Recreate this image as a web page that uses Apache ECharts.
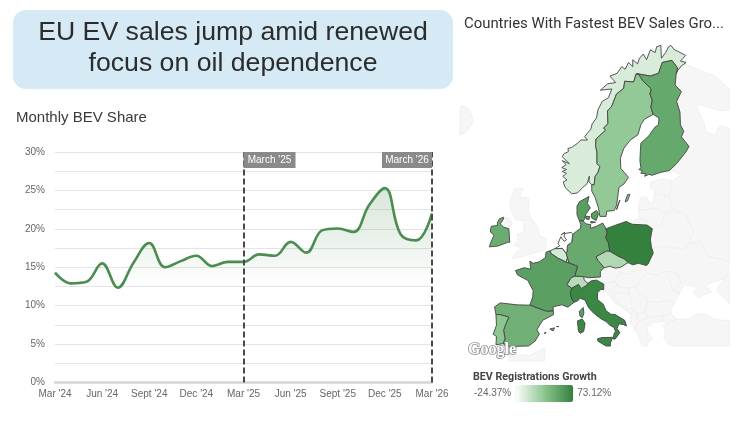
<!DOCTYPE html>
<html>
<head>
<meta charset="utf-8">
<style>html,body{margin:0;padding:0;background:#fff}#chart{width:740px;height:421px}</style>
<script src="https://cdn.jsdelivr.net/npm/echarts@6/dist/echarts.min.js"></script>
</head>
<body>
<div id="chart"></div>
<script>
// Monthly battery-electric share of new car registrations, in percent
const months = ["Mar '24","Apr '24","May '24","Jun '24","Jul '24","Aug '24","Sept '24","Oct '24","Nov '24","Dec '24","Jan '25","Feb '25","Mar '25","Apr '25","May '25","Jun '25","Jul '25","Aug '25","Sept '25","Oct '25","Nov '25","Dec '25","Jan '26","Feb '26","Mar '26"];
const bevShare = [14.3,12.9,13.1,15.5,12.35,15.6,18.15,15.0,15.8,16.5,15.15,15.7,15.7,16.67,16.5,18.3,16.9,19.8,20.05,19.6,23.1,25.3,19.3,18.5,22.0];
const periodMarks = ["Mar '25","Mar '26"];
const periodLabels = ["March '25","March '26"];

// Year-on-year growth in BEV registrations, in percent
const growthCountries = ["Norway","Sweden","Finland","Denmark","Germany","Poland","Czechia","Belgium","Luxembourg","Netherlands","France","Spain","Portugal","Italy","Switzerland","Ireland"];
const growthValues = [-8.3,21.4,45.1,52.6,44,73.12,9,-6.5,-6.5,-24.37,51.2,39.7,24.4,68.7,5.7,42.4];
const growthMin = -24.37;
const growthMax = 73.12;

// Country outlines as [longitude, latitude] rings, one list of rings per country
const outlines = {
  Iceland: [[[-16.45,66.4],[-16,66.5],[-14.6,66.3],[-13.6,65.2],[-15,64.3],[-16.45,63.9]]],
  "United Kingdom": [
    [[-5.6,50],[-3.5,50.3],[1.4,51.2],[1.7,52.7],[0.3,53],[-0.1,54],[-1.6,55.3],[-2.1,56],[-2,57.5],[-4,57.7],[-3.1,58.6],[-5,58.6],[-5.8,57.5],[-6,56.5],[-4.9,55],[-3,54.9],[-3.1,53.4],[-4.5,53.2],[-4.2,52.4],[-5.2,51.8],[-3.2,51.4],[-4.4,51.1]],
    [[-5.5,54.5],[-6.1,55.2],[-7.3,55.3],[-8,54.5],[-7.3,54.1],[-6.2,53.9]]
  ],
  Russia: [
    [[28.9,69.05],[29.2,69.6],[30.9,69.8],[33.5,69.4],[37,68.9],[40.07,67.9],[40.07,66.2],[38,66.1],[34.5,66.6],[33,66.6],[34.8,65],[35,64.3],[37,63.9],[38,64.8],[40.07,64.6],[40.07,49.6],[38,50],[35.5,50.4],[34,52.3],[32,52.1],[31.8,53],[32.7,53.5],[30.9,55.6],[28.2,56.1],[27.5,57.5],[27.9,59.4],[30,60],[28,60.5],[29,61.2],[31,62.4],[31.6,62.9],[30,63.8],[30.5,64.3],[29.8,64.9],[29.7,66],[29,66.9],[30,67.7],[28.7,68.2]],
    [[40.07,47.9],[39.8,47.9],[38.2,47.1],[39.3,47.1],[37.8,46.2],[37.5,45.4],[38.9,44.4],[40.07,43.6]],
    [[19.7,54.45],[22.8,54.35],[22.7,54.9],[21.2,55.2],[20,54.9]]
  ],
  Estonia: [[[23.4,59.2],[25.8,59.6],[28,59.45],[27.5,57.5],[25.9,57.9],[24.4,58],[24.4,58.4],[23.5,58.7]]],
  Latvia: [[[21,56.8],[21.5,57.6],[22.6,57.7],[23.3,57],[24.1,57.1],[24.4,58],[25.9,57.9],[27.5,57.5],[28.2,56.1],[26.6,55.7],[25.6,56.3],[24,56.3],[21,56.1]]],
  Lithuania: [[[21,56.1],[24,56.3],[25.6,56.3],[26.6,55.7],[25.7,54.3],[23.9,53.9],[22.8,54.35],[22.7,54.9],[21.2,55.2]]],
  Belarus: [[[23.9,53.9],[25.7,54.3],[26.6,55.7],[28.2,56.1],[30.9,55.6],[32.7,53.5],[31.8,53],[32,52.1],[30.5,51.3],[27,51.6],[23.7,51.6],[23.5,52.6]]],
  Ukraine: [[[24.1,50.8],[23.7,51.6],[27,51.6],[30.5,51.3],[32,52.1],[34,52.3],[35.5,50.4],[38,50],[40.07,49.6],[39.8,47.9],[38.2,47.1],[36,46.6],[35,46.2],[36.5,45.3],[35,45],[33.5,44.5],[32.5,45.3],[33.5,46],[31.8,46.3],[30.7,46.4],[29.7,45.3],[28.2,45.5],[29.9,46.5],[29.2,47.9],[28,48.2],[26.6,48.3],[24.9,47.7],[22.9,48],[22.2,48.4],[22.7,49.1],[23,49.3]]],
  Moldova: [[[26.6,48.3],[28,48.2],[29.2,47.9],[29.9,46.5],[28.2,45.5],[27.5,47]]],
  Romania: [[[22.9,48],[24.9,47.7],[26.6,48.3],[27.5,47],[28.2,45.5],[29.7,45.2],[28.6,43.75],[27,44.1],[25,43.7],[22.9,43.9],[22.5,44.6],[21.4,44.8],[20.3,46.1],[21.3,47]]],
  Bulgaria: [[[22.9,43.9],[25,43.7],[27,44.1],[28.6,43.75],[27.7,42.6],[28,42],[26.2,41.7],[24.2,41.5],[22.9,41.4],[22.4,42.4]]],
  Hungary: [[[16.1,46.9],[16.5,47.6],[17.1,48],[18.8,47.9],[20.5,48.5],[22.2,48.4],[22.9,48],[21.3,47],[20.3,46.1],[18.8,45.9],[17,46]]],
  Slovakia: [[[17.1,48],[17.2,48.85],[18.8,49.5],[19.8,49.2],[21,49.4],[22.7,49.1],[22.2,48.4],[20.5,48.5],[18.8,47.9]]],
  Austria: [[[9.6,47.05],[9.5,47.55],[10.5,47.4],[13,47.5],[13,48.3],[13.8,48.8],[15,49],[16.1,48.75],[17.2,48.85],[17.1,48],[16.5,47.6],[16.1,46.9],[13.7,46.5],[12.2,47.05],[11.1,46.95],[10.4,46.6]]],
  Slovenia: [[[13.7,46.5],[16.1,46.9],[16.5,46.4],[15.3,45.7],[13.7,45.5]]],
  Croatia: [[[13.6,45.1],[13.7,45.5],[15.3,45.7],[16.5,46.4],[17,46],[18.8,45.9],[19,45.2],[16,45.2],[15.8,44.3],[17.5,43.1],[18.4,42.6],[16.5,43.4],[15,44.6],[14.3,45.2]]],
  Bosnia: [[[16,45.2],[19,45.2],[19.5,44],[18.4,42.6],[17.5,43.1],[15.8,44.3]]],
  Serbia: [[[18.8,45.9],[20.3,46.1],[21.4,44.8],[22.5,44.6],[22.9,43.9],[22.4,42.4],[20.6,41.9],[20,42.6],[19.5,43],[19.5,44],[19,45.2]]],
  Montenegro: [[[18.4,42.6],[19.5,43],[20,42.6],[19.3,41.9]]],
  Albania: [[[19.3,41.9],[20,42.6],[20.6,41.9],[21,40.8],[20.2,39.7],[19.4,40.4]]],
  Macedonia: [[[20.6,41.9],[22.4,42.4],[22.9,41.4],[21,40.8]]],
  Greece: [[[20.2,39.7],[21,40.8],[22.9,41.4],[24.2,41.5],[26.2,41.7],[26,40.8],[24,40.7],[23.4,40],[22.6,40.4],[23,39],[24,38],[23,37.5],[23,36.8],[21.7,36.8],[21.1,38.3],[20.7,38.9]]],
  Turkey: [
    [[26.2,41.7],[28,42],[29,41.2],[27,40.6],[26,40.8]],
    [[26,40.1],[29,41.1],[31.4,41.2],[33.3,42],[35.1,42],[36.5,41.3],[38.5,41],[40.07,41],[40.07,36.8],[30.6,36.8],[29,36.8],[27.4,37],[26.3,38.3],[26.7,39.5]]
  ],
  Morocco: [[[-6.2,35.8],[-5.3,35.9],[-4.6,35.2],[-3,35.3],[-2,35.1],[0,35.9],[1.3,36.5],[1.3,34.24],[-6.2,34.24]]],

  Norway: [[[7,58],[5.6,58.7],[5.2,59.3],[6,59.5],[5.1,59.9],[5.9,60.2],[5,60.4],[5.9,60.6],[4.9,60.8],[5.8,61.1],[5,61.5],[6.5,61.2],[5,61.9],[5.4,62.2],[6.3,62.4],[6.2,62.7],[7,62.8],[8.2,63.2],[8.9,63.5],[10.3,63.5],[9.7,63.8],[10.4,64.2],[11,64.5],[11.3,65],[12.2,65.5],[12.5,66.2],[13.4,66.9],[14.7,67.2],[15.4,67.9],[13,67.8],[14.5,68.3],[16.2,68.4],[15,68.9],[16.5,69.1],[17.5,69.6],[18.2,69.4],[18.9,69.9],[19.8,69.6],[19.8,70.1],[20.8,69.8],[21.2,70.2],[22,70.5],[22.7,70.1],[23.5,70.8],[24.5,70.6],[24.8,71],[25.7,71.1],[25.8,70.2],[26.7,70.6],[27.3,71],[27.8,71.1],[28.5,70.8],[29.2,70.7],[30.9,70.4],[29.8,70],[31,69.9],[30,69.65],[29.2,69.3],[28.9,69.05],[29.2,69.5],[28,70.05],[26,69.9],[25.2,69.1],[23.5,68.9],[21,69.05],[20.5,69.05],[20,68.45],[18.1,68.5],[17.9,67.95],[16.4,67.5],[15.4,66.5],[14.5,66.1],[14.6,65],[13.7,64.6],[14.1,64.4],[12.1,63.6],[12,63],[12.3,62.3],[12.3,61.2],[12.9,60.9],[12.5,60.3],[11.9,59.9],[11.7,59],[11.2,59],[10.6,59.3],[10.7,59.9],[10.2,59.1],[9.3,58.7],[8.2,58.1]]],
  Sweden: [
    [[11.2,59],[11.2,58.3],[11.9,57.6],[12.6,56.4],[12.9,55.4],[14.2,55.4],[14.3,56],[15.9,56.1],[16.4,56.7],[16.7,57.9],[16.9,58.7],[18,59.1],[18.9,59.8],[17.3,60.7],[17.2,61.7],[17.9,62.7],[19.3,63.5],[20.9,64],[21.5,64.9],[22.3,65.4],[24.1,65.8],[23.6,66.4],[23.9,67],[23.4,67.5],[23.7,67.9],[22,68.5],[21,69.05],[20.5,69.05],[20,68.45],[18.1,68.5],[17.9,67.95],[16.4,67.5],[15.4,66.5],[14.5,66.1],[14.6,65],[13.7,64.6],[14.1,64.4],[12.1,63.6],[12,63],[12.3,62.3],[12.3,61.2],[12.9,60.9],[12.5,60.3],[11.9,59.9],[11.7,59]],
    [[18.2,57.1],[18.7,57.2],[19.2,57.95],[18.7,57.9]],
    [[16.4,56.2],[16.5,56.3],[17.1,57.3],[16.8,56.9]]
  ],
  Finland: [[[20.5,69.05],[21,69.05],[22,68.5],[23.7,67.9],[23.4,67.5],[23.9,67],[23.6,66.4],[24.1,65.8],[25.3,65.5],[25.2,64.9],[24.5,64.7],[23.2,63.9],[21.5,63.2],[21.4,62.5],[21.3,61.5],[21.5,60.8],[21.1,60.6],[21.8,60.5],[21.5,60.2],[22.5,60.2],[22.3,59.9],[23.2,60.1],[23.8,60],[25.6,60.3],[27.5,60.5],[29,61.2],[31,62.4],[31.6,62.9],[30,63.8],[30.5,64.3],[29.8,64.9],[29.7,66],[29,66.9],[30,67.7],[28.7,68.2],[28.9,69.05],[29.2,69.5],[28,70.05],[26,69.9],[25.2,69.1],[23.5,68.9],[21,69.05]]],
  Denmark: [
    [[8.6,54.9],[8.1,55.6],[8.1,56.6],[8.6,57.1],[10.6,57.7],[10.3,56.9],[10.9,56.4],[10,55.7],[9.6,55],[9.4,54.85]],
    [[11.1,55.7],[12.2,56.1],[12.6,55.7],[12.1,54.9],[11.2,55.2]],
    [[9.9,55.4],[10.8,55.4],[10.6,55],[10,55.1]],
    [[11,54.8],[12,54.7],[11.9,54.6],[11,54.6]]
  ],
  Germany: [[[8.6,54.9],[9.4,54.85],[10,54.5],[11,54.4],[10.9,53.95],[12.2,54.2],[13.5,54.6],[14.2,53.9],[14.4,53.3],[14.1,52.8],[14.7,52.1],[15,51],[14.3,51.05],[12.1,50.3],[12.5,49.8],[13.8,48.8],[13,48.3],[13,47.5],[10.5,47.4],[9.5,47.55],[7.6,47.6],[8.2,49],[6.4,49.45],[6.1,50.1],[5.8,50.75],[6,51],[6.1,51.8],[7,52.2],[7.2,53.2],[8,53.6],[8.8,53.9],[8.9,54.4]]],
  Poland: [[[14.2,53.9],[16,54.3],[18.4,54.8],[19.7,54.45],[22.8,54.35],[23.9,53.9],[23.5,52.6],[23.7,51.6],[24.1,50.8],[23,49.3],[22.7,49.1],[21,49.4],[19.8,49.2],[18.8,49.5],[18,50],[16.9,50.3],[15,51],[14.7,52.1],[14.1,52.8],[14.4,53.3]]],
  Czechia: [[[12.1,50.3],[14.3,51.05],[15,51],[16.9,50.3],[18,50],[18.8,49.5],[17.2,48.85],[16.1,48.75],[15,49],[13.8,48.8],[12.5,49.8]]],
  Netherlands: [
    [[7.2,53.2],[7,52.2],[6.1,51.8],[6,51],[5.8,50.75],[5,51.4],[3.4,51.35],[4.5,51.75],[4.1,52],[4.7,52.9],[5.4,52.3],[5.9,52.5],[5.4,52.9],[5.5,53.3],[6.9,53.45]],
    [[4.8,53.1],[5.1,53.3],[5.6,53.45],[4.9,53.2]]
  ],
  Belgium: [[[2.5,51.1],[3.4,51.35],[5,51.4],[5.8,50.75],[6.1,50.1],[5.8,49.55],[4.8,49.9],[4.2,50.05],[2.6,50.75]]],
  Luxembourg: [[[5.8,49.55],[6.1,50.1],[6.4,49.45]]],
  France: [
    [[2.5,51.1],[2.6,50.75],[4.2,50.05],[4.8,49.9],[5.8,49.55],[6.4,49.45],[8.2,49],[7.6,47.6],[6.9,47.4],[6,46.4],[7,45.9],[6.7,45.1],[7,44.3],[7.5,43.8],[6.2,43.05],[4.9,43.4],[3.1,43.1],[3.1,42.45],[1.7,42.4],[-1.8,43.35],[-1.2,44.6],[-1.1,45.5],[-2.2,47],[-4.4,47.8],[-4.8,48.4],[-3,48.8],[-1.6,48.6],[-1.8,49.7],[-1.1,49.4],[0.2,49.6],[1.5,50.2],[1.6,50.9]],
    [[8.6,42.4],[9.4,43],[9.55,42.1],[9.2,41.4],[8.7,41.7]]
  ],
  Spain: [
    [[-1.8,43.35],[1.7,42.4],[3.1,42.45],[3.2,41.9],[0.9,41],[-0.3,39.5],[0.2,38.8],[-0.7,37.6],[-2.1,36.8],[-4.4,36.75],[-5.6,36.4],[-6.4,36.8],[-7.4,37.2],[-7,38],[-7.3,39.4],[-6.9,40.3],[-6.2,41.5],[-8.1,41.9],[-8.9,41.9],[-9.2,43.1],[-8,43.7],[-4.5,43.4]],
    [[2.4,39.6],[3.4,39.8],[3.1,39.3]],
    [[3.8,40],[4.3,40],[4.1,39.9]],
    [[1.2,38.9],[1.6,39.1],[1.5,38.9]]
  ],
  Portugal: [[[-8.9,41.9],[-8.1,41.9],[-6.2,41.5],[-6.9,40.3],[-7.3,39.4],[-7,38],[-7.4,37.2],[-8.9,37],[-8.8,38.4],[-9.5,38.75],[-8.8,40.2]]],
  Italy: [
    [[7.5,43.8],[8.2,44],[8.8,44.4],[9.8,44.1],[10.5,43],[11.2,42.4],[12.3,41.7],[13.1,41.25],[14.2,40.8],[15,40.2],[15.8,39.9],[16.2,39.2],[15.9,38.9],[15.7,37.95],[16.1,37.95],[17.1,39],[16.5,39.7],[16.9,40.45],[17.9,40.3],[18.5,40.1],[18.1,41],[16.1,41.9],[15.2,41.95],[14.2,42.5],[13.6,43.5],[12.4,44.2],[12.4,45.2],[13.1,45.7],[13.7,45.7],[13.7,46.5],[12.2,47.05],[11.1,46.95],[10.4,46.6],[9.3,46.45],[8.4,46.45],[7,45.9],[6.7,45.1],[7,44.3]],
    [[12.4,38],[13.3,38.2],[15.6,38.25],[15.1,37.3],[15.1,36.8],[14.2,36.8],[12.5,37.6]],
    [[8.2,40.9],[9.2,41.2],[9.8,40.5],[9.5,39.2],[8.8,38.9],[8.4,39.2]]
  ],
  Switzerland: [[[7.6,47.6],[9.5,47.55],[9.6,47.05],[10.4,46.6],[10.1,46.3],[9,45.85],[8.4,46.45],[7,45.9],[6,46.4],[6.9,47.4]]],
  Ireland: [[[-6,52.2],[-6.4,52.2],[-8.5,51.7],[-10.3,51.6],[-9.9,52.3],[-9.3,53.1],[-10.1,53.5],[-9.9,54.2],[-8.6,54.3],[-8.6,54.6],[-8.2,55.1],[-7.3,55.3],[-7.4,55],[-8,54.5],[-7.3,54.1],[-6.2,53.9],[-6.1,53]]]
};

const features = Object.keys(outlines).map(function (name) {
  return {
    type: 'Feature',
    properties: { name: name },
    geometry: { type: 'MultiPolygon', coordinates: outlines[name].map(function (ring) { return [ring.concat([ring[0]])]; }) }
  };
});
echarts.registerMap('europe', { type: 'FeatureCollection', features: features });

// Web Mercator in degree units, with north pointing up on the screen
const toRad = Math.PI / 180;
const mercator = {
  project: function (p) { return [p[0], -Math.log(Math.tan(Math.PI / 4 + p[1] * toRad / 2)) / toRad]; },
  unproject: function (p) { return [p[0], (2 * Math.atan(Math.exp(-p[1] * toRad)) - Math.PI / 2) / toRad]; }
};

const font = '"Liberation Sans", Arial, sans-serif';
const tickColor = '#666666';
const lineGreen = '#4b8c50';

const chart = echarts.init(document.getElementById('chart'), null, { renderer: 'canvas' });
chart.setOption({
  animation: false,
  backgroundColor: '#ffffff',
  graphic: [{
    type: 'rect', z: -1,
    shape: { x: 13, y: 10, width: 440, height: 79, r: 13 },
    style: { fill: '#d5eaf5' }
  }],
  title: [
    { text: 'EU EV sales jump amid renewed\nfocus on oil dependence', left: 228, top: 12, textAlign: 'center',
      textStyle: { fontFamily: font, fontSize: 26.67, fontWeight: 'normal', color: '#2c2c2c', lineHeight: 31, align: 'center' } },
    { text: 'Monthly BEV Share', left: 16, top: 110,
      textStyle: { fontFamily: font, fontSize: 15, fontWeight: 'normal', color: '#3a3a3a' }, padding: 0 },
    { text: 'Countries With Fastest BEV Sales Gro...', left: 464, top: 17,
      textStyle: { fontFamily: 'Roboto', fontSize: 14.9, fontWeight: 'normal', color: '#333333' }, padding: 0 },
    { text: 'BEV Registrations Growth', left: 473, top: 372,
      textStyle: { fontFamily: 'Roboto', fontSize: 10.7, fontWeight: 'bold', color: '#444444' }, padding: 0 },
    { text: 'Google', left: 468, top: 342, z: 20,
      textStyle: { fontFamily: '"Liberation Serif"', fontSize: 16, fontWeight: 'bold', color: '#ffffff', textBorderColor: '#8a8a8a', textBorderWidth: 1.5 }, padding: 0 }
  ],
  grid: { left: 55, right: 308, top: 152, bottom: 38.5 },
  xAxis: {
    type: 'category', data: months, boundaryGap: false,
    axisTick: { show: false },
    axisLine: { lineStyle: { color: '#d4d4d4', width: 2.5 } },
    axisLabel: { interval: 2, margin: 7, color: tickColor, fontFamily: font, fontSize: 10, hideOverlap: false },
    splitLine: { show: false }
  },
  yAxis: {
    type: 'value', min: 0, max: 30, interval: 2.5,
    axisLine: { show: false }, axisTick: { show: false },
    axisLabel: {
      margin: 10, color: tickColor, fontFamily: font, fontSize: 10,
      formatter: function (v) { return v % 5 === 0 ? v + '%' : ''; }
    },
    splitLine: { lineStyle: { color: '#e4e4e4', width: 1 } }
  },
  visualMap: {
    type: 'continuous', seriesIndex: 1, min: growthMin, max: growthMax,
    orient: 'horizontal', left: 474, top: 385,
    itemWidth: 17, itemHeight: 58, itemGap: 0,
    text: ['73.12%', '-24.37%'], textGap: 4,
    textStyle: { color: tickColor, fontFamily: font, fontSize: 10 },
    calculable: false, hoverLink: false, padding: 0,
    inRange: { color: ['#ffffff', '#8cc690', '#33813c'] }
  },
  series: [
    {
      type: 'line', data: bevShare, smooth: 0.4, showSymbol: false,
      lineStyle: { color: lineGreen, width: 2.6 },
      itemStyle: { color: lineGreen },
      areaStyle: {
        origin: Math.min.apply(null, bevShare),
        color: new echarts.graphic.LinearGradient(0, 0, 0, 1, [
          { offset: 0, color: 'rgba(75,140,80,0.3)' },
          { offset: 0.5, color: 'rgba(75,140,80,0.17)' },
          { offset: 1, color: 'rgba(75,140,80,0)' }
        ])
      },
      markLine: {
        silent: true, symbol: 'none', animation: false, label: { show: false },
        lineStyle: { color: '#4a4a4a', type: [6, 3], width: 2 },
        data: periodMarks.map(function (m) { return { xAxis: m }; })
      },
      markPoint: {
        silent: true, animation: false,
        data: periodMarks.map(function (m, i) {
          return {
            coord: [m, 30], symbol: 'rect',
            symbolSize: [i === 0 ? 52 : 50, 16],
            symbolOffset: [i === 0 ? 26 : -25, 8],
            itemStyle: { color: '#8a8a8a' },
            label: { show: true, position: 'inside', formatter: periodLabels[i], color: '#ffffff', fontFamily: font, fontSize: 10 }
          };
        })
      }
    },
    {
      type: 'map', map: 'europe', projection: mercator, roam: false, silent: true,
      boundingCoords: [[-16.45, 71.46], [42.3, 34.24]],
      left: 460, top: 40, width: 280, height: 321,
      label: { show: false },
      emphasis: { disabled: true },
      itemStyle: { areaColor: '#f6f6f6', borderColor: '#eeeeee', borderWidth: 0.8 },
      data: growthCountries.map(function (name, i) {
        return { name: name, value: growthValues[i], itemStyle: { borderColor: '#444444', borderWidth: 0.9 } };
      })
    }
  ]
});
</script>
</body>
</html>
